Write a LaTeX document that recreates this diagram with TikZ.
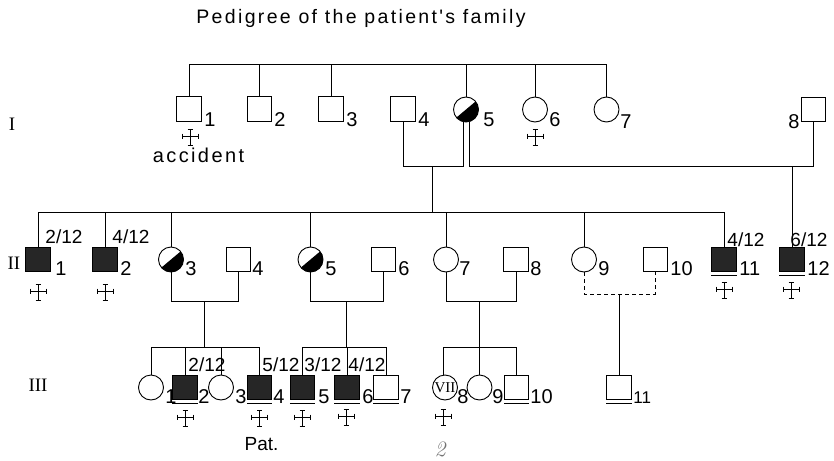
\documentclass[tikz,border=0pt]{standalone}
\usepackage{fontspec}
\newfontfamily\lab{Liberation Sans}
\newfontfamily\labsp[LetterSpace=12]{Liberation Sans}
\newfontfamily\gserif{Liberation Serif}
\begin{document}
\begin{tikzpicture}[x=1pt,y=-1pt, line width=0.9pt, line join=miter,
 sq/.style={draw, rectangle, minimum size=24.5pt, inner sep=0pt},
 ci/.style={draw, circle, minimum size=25pt, inner sep=0pt},
 aff/.style={fill=black!85},
 half/.style={ci, path picture={\fill ([shift={(40:20pt)}]path picture bounding box.center) -- ([shift={(220:20pt)}]path picture bounding box.center) arc[start angle=220,end angle=400,radius=20pt] -- cycle;}},
 num/.style={font=\lab\fontsize{20}{20}\selectfont, inner sep=0pt, anchor=west},
 numl/.style={font=\lab\fontsize{20}{20}\selectfont, inner sep=0pt, anchor=east},
 frac/.style={font=\lab\fontsize{19}{19}\selectfont, inner sep=0pt, anchor=west},
 gen/.style={font=\gserif\fontsize{19}{19}\selectfont, inner sep=0pt},
 dcross/.pic={\draw[line width=0.9pt] (0,-8) -- (0,8.5) (-8,-1) -- (8,-1)
   (-2.5,-8) -- (2.5,-8) (-2.5,8.5) -- (2.5,8.5) (-8,-3.5) -- (-8,1.5) (8,-3.5) -- (8,1.5);}
]
\fill[white] (0,0) rectangle (834,460);
\useasboundingbox (0,0) rectangle (834,460);

% title
\node[font=\labsp\fontsize{19.5}{19.5}\selectfont, inner sep=0pt, anchor=base] (title) at (361,24) {Pedigree of the patient's family};

% generation labels
\node[gen] (gI) at (12,124) {I};
\node[gen] (gII) at (14,263.5) {II};
\node[gen] (gIII) at (38,385) {III};

% ---------- generation I
\node[sq] (I1) at (189,109) {};
\node[sq] (I2) at (259.5,109) {};
\node[sq] (I3) at (331,109) {};
\node[sq] (I4) at (403,109) {};
\node[half] (I5) at (466,109.5) {};
\node[ci] (I6) at (535,109.5) {};
\node[ci] (I7) at (606.5,109.5) {};
\node[sq] (I8) at (813.5,109.5) {};

\node[num] (nI1) at (204,120) {1};
\node[num] (nI2) at (274,120) {2};
\node[num] (nI3) at (346,120) {3};
\node[num] (nI4) at (418,120) {4};
\node[num] (nI5) at (483,120) {5};
\node[num] (nI6) at (549,120) {6};
\node[num] (nI7) at (620,122) {7};
\node[numl] (nI8) at (800,122) {8};

\pic at (190,137) {dcross};
\pic at (535,137) {dcross};
\node[font=\labsp\fontsize{20}{20}\selectfont, inner sep=0pt, anchor=base] (acc) at (198.5,162) {accident};

\coordinate (sI) at (0,64);
\draw (I1.north) -- (I1.north |- sI) -- (I7.north |- sI) -- (I7.north);
\foreach \n in {I2,I3,I5,I6} \draw (\n.north) -- (\n.north |- sI);

\coordinate (mI) at (0,166);
\coordinate (dI) at (432,166);
\coordinate (dI8) at (792,166);
\draw (I4.south) -- (I4.south |- mI) -- ([xshift=-3pt]I5.south |- mI) -- ([xshift=-3pt]I5.south);
\draw ([xshift=3pt]I5.south) -- ([xshift=3pt]I5.south |- mI) -- (I8.south |- mI) -- (I8.south);

% ---------- generation II
\node[sq,aff] (II1) at (38,259.5) {};
\node[sq,aff] (II2) at (105,259.5) {};
\node[half] (II3) at (171,259.5) {};
\node[sq] (II4) at (238.5,259.5) {};
\node[half] (II5) at (310.5,259.5) {};
\node[sq] (II6) at (383.5,259.5) {};
\node[ci] (II7) at (446,259.5) {};
\node[sq] (II8) at (516,259.5) {};
\node[ci] (II9) at (584,259.5) {};
\node[sq] (II10) at (655.5,259.5) {};
\node[sq,aff] (II11) at (724,259.5) {};
\node[sq,aff] (II12) at (792,259.5) {};
\draw ([yshift=-3pt]II11.south west) -- ([yshift=-3pt]II11.south east);
\draw ([yshift=-3pt]II12.south west) -- ([yshift=-3pt]II12.south east);

\node[num] (nII1) at (55,268.5) {1};
\node[num] (nII2) at (120,268.5) {2};
\node[num] (nII3) at (185,268.5) {3};
\node[num] (nII4) at (252,268.5) {4};
\node[num] (nII5) at (325,268.5) {5};
\node[num] (nII6) at (398,268.5) {6};
\node[num] (nII7) at (459,268.5) {7};
\node[num] (nII8) at (530,268.5) {8};
\node[num] (nII9) at (598,268.5) {9};
\node[num] (nII10) at (670,268.5) {10};
\node[num] (nII11) at (739,268.5) {11};
\node[num] (nII12) at (807,268.5) {12};

\node[frac] (fII1) at (45,237) {2/12};
\node[frac] (fII2) at (112,237) {4/12};
\node[frac] (fII11) at (727,240) {4/12};
\node[frac] (fII12) at (790,240) {6/12};

\pic at (38,292) {dcross};
\pic at (105,292) {dcross};
\pic at (724,290) {dcross};
\pic at (791,290) {dcross};

\coordinate (sII) at (0,212);
\draw (dI) -- (dI |- sII);
\draw (II1.north) -- (II1.north |- sII) -- (II11.north |- sII) -- (II11.north);
\foreach \n in {II2,II3,II5,II7,II9} \draw (\n.north) -- (\n.north |- sII);
\draw (dI8) -- (II12.north);

\coordinate (mII) at (0,301.5);
\coordinate (mIId) at (0,294);
\coordinate (sIII) at (0,347);
\coordinate (dA) at (204,301.5);
\coordinate (dB) at (346,301.5);
\coordinate (dC) at (479.5,301.5);
\coordinate (dD) at (619,294);
\draw (II3.south) -- (II3.south |- mII) -- (II4.south |- mII) -- (II4.south);
\draw (II5.south) -- (II5.south |- mII) -- (II6.south |- mII) -- (II6.south);
\draw (II7.south) -- (II7.south |- mII) -- (II8.south |- mII) -- (II8.south);
\draw[dashed, dash pattern=on 4pt off 3pt] (II9.south) -- (II9.south |- mIId) -- (II10.south |- mIId) -- (II10.south);

% ---------- generation III
\node[ci] (III1) at (151,387.5) {};
\node[sq,aff] (III2) at (185,387.5) {};
\node[ci] (III3) at (221,387.5) {};
\node[sq,aff] (III4) at (259.5,387.5) {};
\node[sq,aff] (III5) at (302.5,387.5) {};
\node[sq,aff] (III6) at (347,387.5) {};
\node[sq] (III7) at (386,387.5) {};
\node[ci, font=\gserif\fontsize{15}{15}\selectfont] (III8) at (445,387.5) {VII};
\node[ci] (III9) at (479.5,387.5) {};
\node[sq] (III10) at (516.5,387.5) {};
\node[sq] (III11) at (619,387.5) {};
\foreach \n in {III2,III4,III5,III6,III7,III10,III11}
  \draw ([yshift=-3pt]\n.south west) -- ([yshift=-3pt]\n.south east);

\node[num] (nIII1) at (165,397) {1};
\node[num] (nIII2) at (198,397) {2};
\node[num] (nIII3) at (235,397) {3};
\node[num] (nIII4) at (273,397) {4};
\node[num] (nIII5) at (318,397) {5};
\node[num] (nIII6) at (362,397) {6};
\node[num] (nIII7) at (400,397) {7};
\node[num] (nIII8) at (457,397) {8};
\node[num] (nIII9) at (492,397) {9};
\node[num] (nIII10) at (530,397) {10};
\node[num, font=\lab\fontsize{17}{17}\selectfont] (nIII11) at (633,398) {11};

\node[frac] (fIII2) at (188,365) {2/12};
\node[frac] (fIII4) at (262,365) {5/12};
\node[frac] (fIII5) at (304,365) {3/12};
\node[frac] (fIII6) at (348,365) {4/12};

\pic at (185,418) {dcross};
\pic at (259.5,418) {dcross};
\pic at (302,418) {dcross};
\pic at (346,417) {dcross};
\pic at (443,417) {dcross};

\node[font=\lab\fontsize{19}{19}\selectfont, inner sep=0pt, anchor=base] (pat) at (261.5,450) {Pat.};
\node[font=\itshape\fontsize{22}{22}\selectfont, text=black!55, inner sep=0pt] (hw) at (440,449) {2};

\draw (dA) -- (dA |- sIII);
\draw (III1.north) -- (III1.north |- sIII) -- (III4.north |- sIII) -- (III4.north);
\foreach \n in {III2,III3} \draw (\n.north) -- (\n.north |- sIII);
\draw (dB) -- (dB |- sIII);
\draw (III5.north) -- (III5.north |- sIII) -- (III7.north |- sIII) -- (III7.north);
\draw (III6.north) -- (III6.north |- sIII);
\draw (dC) -- (dC |- sIII);
\draw ([xshift=-2pt]III8.north) -- ([xshift=-2pt]III8.north |- sIII) -- (III10.north |- sIII) -- (III10.north);
\draw (III9.north) -- (III9.north |- sIII);
\draw (dD) -- (III11.north);
\end{tikzpicture}
\end{document}
